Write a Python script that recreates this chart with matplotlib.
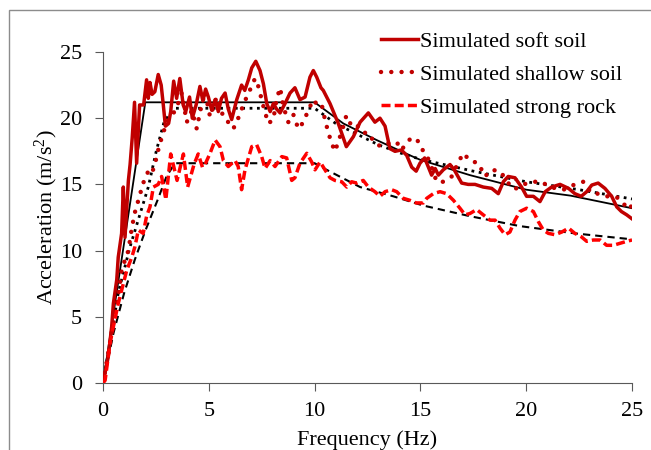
import matplotlib
matplotlib.use('Agg')
import matplotlib.pyplot as plt
from matplotlib.patches import Rectangle

# simulated spectra
soft_f = [0, 0.25, 0.41, 0.49, 0.65, 0.72, 0.88, 0.96, 1.04, 1.2, 1.28, 1.38, 1.49, 1.59, 1.73, 1.92,
          2.06, 2.14, 2.22, 2.32, 2.45, 2.61, 2.75, 2.85, 2.95, 3.1, 3.2, 3.34, 3.48, 3.63, 3.79, 3.91,
          4.09, 4.22, 4.4, 4.58, 4.72, 4.85, 4.98, 5.14, 5.3, 5.45, 5.6, 5.77, 5.92, 6.08, 6.32, 6.55,
          6.7, 6.87, 7.03, 7.22, 7.42, 7.58, 7.74, 7.9, 8.05, 8.2, 8.37, 8.6, 8.84, 9.07, 9.31, 9.55,
          9.78, 9.94, 10.1, 10.3, 10.41, 10.73, 11.12, 11.36, 11.5, 11.83, 12.15, 12.54, 12.85, 13.09,
          13.33, 13.56, 13.8, 14.1, 14.35, 14.59, 14.8, 14.98, 15.2, 15.53, 15.7, 15.85, 16.08, 16.4,
          16.6, 16.95, 17.26, 17.58, 17.97, 18.37, 18.68, 18.92, 19.15, 19.47, 19.78, 20.02, 20.34,
          20.65, 20.9, 21.2, 21.6, 22.0, 22.3, 22.6, 22.86, 23.1, 23.4, 23.72, 24.04, 24.28, 24.5,
          24.75, 25.0]
soft_a = [0, 2.0, 4.25, 6.0, 7.8, 9.5, 11.3, 14.8, 11.0, 15.3, 16.5, 18.5, 21.2, 16.6, 21.0, 21.0,
          22.9, 21.5, 22.7, 21.8, 22.0, 23.3, 22.5, 21.0, 19.4, 19.6, 20.5, 22.8, 21.5, 23.0, 21.0, 20.5,
          21.6, 20.0, 21.0, 22.4, 21.3, 22.2, 21.6, 20.6, 21.4, 20.5, 21.5, 21.9, 20.7, 19.9, 21.4, 22.5,
          22.1, 22.9, 23.8, 24.3, 23.6, 22.6, 21.1, 20.5, 21.1, 20.7, 20.4, 21.1, 21.9, 22.3, 21.4, 21.6,
          23.1, 23.6, 23.1, 22.3, 22.1, 21.1, 19.6, 18.5, 17.85, 18.6, 19.7, 20.4, 19.7, 20.0,
          19.4, 17.7, 17.5, 17.6, 17.2, 16.3, 16.0, 16.6, 17.0, 15.7, 16.2, 15.7, 16.1, 16.5,
          16.1, 15.1, 15.0, 15.0, 14.8, 14.7, 14.3, 15.2, 15.6, 15.5, 14.8, 14.1, 14.1,
          13.7, 14.45, 14.8, 15.0, 14.7, 14.3, 14.1, 14.45, 14.95, 15.1, 14.7, 14.1, 13.3, 12.95,
          12.7, 12.4]

shallow_f = [0, 0.33, 0.57, 0.72, 0.88, 1.04, 1.2, 1.36, 1.51, 1.67, 1.9, 2.14, 2.3, 2.45, 2.61, 2.77,
             2.93, 3.09, 3.3, 3.48, 3.72, 3.96, 4.2, 4.43, 4.59, 4.82, 5.06, 5.37, 5.69, 5.92, 6.16, 6.39,
             6.63, 6.87, 7.03, 7.18, 7.34, 7.58, 7.81, 8.05, 8.2, 8.37, 8.52, 8.76, 8.99, 9.23, 9.47, 9.7,
             9.94, 10.18, 10.34, 10.49, 10.65, 10.81, 10.96, 11.12, 11.36, 11.5, 11.75, 11.99, 12.3,
             12.54, 12.85, 13.17, 13.48, 13.88, 14.1, 14.5, 14.8, 15.14, 15.3, 15.53, 15.77, 16.08,
             16.48, 16.8, 17.03, 17.34, 17.74, 18.05, 18.37, 18.76, 19.08, 19.31, 19.55, 19.86, 20.34,
             20.73, 21.1, 21.44, 21.76, 22.23, 22.7, 23.1, 23.4, 23.8, 24.2, 24.5, 24.8, 25.0]
shallow_a = [0, 3.0, 5.3, 6.5, 8.5, 9.3, 10.0, 11.7, 12.9, 13.8, 15.1, 16.0, 15.8, 16.5, 17.6, 18.5,
             19.3, 19.9, 20.3, 20.8, 21.9, 19.7, 20.6, 19.2, 20.5, 22.0, 20.1, 21.6, 20.1, 19.7, 19.2, 20.0,
             21.0, 21.9, 22.4, 23.0, 22.4, 20.9, 19.6, 19.9, 21.4, 22.3, 20.9, 19.7, 20.3, 19.2, 19.7, 20.6,
             21.4, 20.9, 21.0, 19.9, 18.9, 18.1, 17.5, 18.2, 19.4, 20.2, 19.4, 19.5, 18.9,
             18.9, 18.1, 17.85, 18.1, 18.2, 17.6, 18.4, 18.5, 17.5, 17.2, 16.3, 15.2, 15.2,
             15.6, 16.7, 17.35, 16.8, 16.6, 15.6, 16.1, 16.0, 15.3, 14.7, 14.7, 15.0, 15.2,
             15.2, 14.8, 14.7, 14.6, 14.95, 15.2, 14.3, 14.3, 14.1, 14.1, 13.8, 13.1, 13.4]

rock_f = [0, 0.1, 0.33, 0.49, 0.72, 0.96, 1.12, 1.36, 1.51, 1.67, 1.9, 2.06, 2.22, 2.38, 2.61, 2.77,
          2.97, 3.2, 3.5, 3.8, 4.0, 4.3, 4.5, 4.7, 4.82, 5.06, 5.3, 5.53, 5.69, 5.92, 6.24, 6.39, 6.55,
          6.71, 7.03, 7.26, 7.5, 7.66, 7.9, 8.13, 8.45, 8.68, 8.92, 9.07, 9.31, 9.63, 9.86, 10.02,
          10.26, 10.49, 10.73, 10.96, 11.28, 11.52, 11.75, 11.99, 12.3, 12.54, 12.85, 13.09, 13.33,
          13.64, 13.88, 14.19, 14.5, 14.8, 15.14, 15.3, 15.61, 15.93, 16.24, 16.56, 16.87, 17.11,
          17.34, 17.66, 17.97, 18.29, 18.53, 18.76, 19.0, 19.23, 19.47, 19.7, 20.02, 20.34, 20.57,
          20.81, 21.05, 21.36, 21.68, 22.0, 22.3, 22.6, 22.86, 23.17, 23.5, 23.8, 24.12, 24.43,
          24.75, 25.0]
rock_a = [0, 0.2, 3.0, 4.25, 6.0, 7.5, 8.5, 9.5, 10.3, 11.55, 11.3, 12.6, 13.3, 14.8, 15.0, 15.6,
          13.85, 17.3, 15.3, 17.3, 14.8, 16.5, 17.3, 16.3, 16.5, 17.35, 18.35, 17.85, 16.8, 16.35, 16.8,
          16.35, 14.6, 16.1, 17.85, 18.0, 17.1, 16.2, 16.8, 16.35, 17.1, 17.0, 15.3, 15.5, 16.6, 17.35,
          16.7, 16.1, 16.7, 16.1, 15.5, 15.3, 15.2, 14.8, 15.2, 15.1, 15.3, 14.8, 14.45, 14.1, 14.45,
          14.6, 14.45, 13.95, 13.8, 13.6, 13.6, 13.95, 14.3, 14.45, 14.3, 13.8, 13.2, 12.7,
          12.8, 13.1, 12.7, 12.3, 12.3, 11.7, 11.2, 11.4, 12.3, 12.95, 13.2, 12.95, 12.2,
          11.55, 11.3, 11.2, 11.4, 11.7, 11.3, 11.05, 10.7, 10.8, 10.8, 10.4, 10.4, 10.55,
          10.7, 10.8]

# target spectra
soft_target_f = [0, 2.0, 10, 11.36, 12.93, 14.5, 15.0, 17.34, 20.0, 22.1, 25]
soft_target_a = [0, 21.2, 21.2, 19.6, 18.35, 17.2, 16.85, 15.7, 14.6, 14.15, 13.2]
shallow_target_f = [0, 0.5, 0.72, 1.28, 2.14, 2.53, 2.9, 3.4, 10, 11, 12, 13, 14, 15, 17.5, 20, 22.5, 25]
shallow_target_a = [0, 4.6, 6.8, 10.3, 14.8, 17.6, 19.8, 20.75, 20.75, 19.6, 18.8, 18.0, 17.4, 16.9,
                    16.0, 15.2, 14.6, 13.9]
rock_target_f = [0, 0.5, 1.0, 1.5, 2.0, 2.6, 3.0, 3.4, 10, 10.57, 12.15, 13.72, 15.14, 17.34, 19.7, 22.3, 25]
rock_target_a = [0, 3.8, 6.8, 9.3, 11.5, 13.9, 15.6, 16.6, 16.6, 16.1, 14.8, 14.1, 13.4, 12.6, 11.85,
                 11.3, 10.85]

plt.rcParams['font.family'] = ['Liberation Serif', 'DejaVu Serif']
plt.rcParams['font.size'] = 16
plt.rcParams['mathtext.fontset'] = 'custom'
plt.rcParams['mathtext.rm'] = 'Liberation Serif'
plt.rcParams['mathtext.default'] = 'regular'

fig = plt.figure(figsize=(6.51, 4.5), dpi=100)
ax = fig.add_axes([103 / 651, 1 - 383 / 450, 529 / 651, 331 / 450])

# targets drawn underneath the simulated curves
ax.plot(soft_target_f, soft_target_a, color='black', lw=1.3, zorder=2)
ax.plot(shallow_target_f, shallow_target_a, color='black', lw=2, linestyle=':', zorder=2)
ax.plot(rock_target_f, rock_target_a, color='black', lw=1.5, linestyle=(0, (3.5, 2.4)), zorder=2)

ax.plot(soft_f, soft_a, color='#C00000', lw=2.5, label='Simulated soft soil', zorder=3)
ax.plot(shallow_f, shallow_a, color='#C00000', lw=3.2, linestyle=(0, (0.01, 2.3)),
        dash_capstyle='round', label='Simulated shallow soil', zorder=3)
ax.plot(rock_f, rock_a, color='#FF0000', lw=2.5, linestyle=(0, (2.6, 1.2)),
        label='Simulated strong rock', zorder=3)

ax.set_xlim(0, 25)
ax.set_ylim(0, 25)
ax.set_xticks([0, 5, 10, 15, 20, 25])
ax.set_yticks([0, 5, 10, 15, 20, 25])
ax.spines['top'].set_visible(False)
ax.spines['right'].set_visible(False)
for s in ['left', 'bottom']:
    ax.spines[s].set_color('#595959')
ax.tick_params(direction='out', length=6, color='#595959', labelsize=16)
ax.tick_params(axis='x', pad=8)
ax.tick_params(axis='y', pad=9)

ax.set_xlabel('Frequency (Hz)', fontsize=16, labelpad=6)
ax.set_ylabel('Acceleration (m/s$^2$)', fontsize=16, labelpad=0)

ax.legend(loc='upper left', bbox_to_anchor=(381 / 651, 1 - 31 / 450),
          bbox_transform=fig.transFigure, frameon=False, fontsize=16,
          handlelength=1.65, handletextpad=0.1, borderpad=0, borderaxespad=0,
          labelspacing=0.56)

# outer chart border
fig.add_artist(Rectangle((9 / 651, -0.05), 1.1, 1 - 10 / 450 + 0.05, fill=False,
                         edgecolor='#8c8c8c', lw=1, transform=fig.transFigure))

plt.savefig('out.png', dpi=100)
